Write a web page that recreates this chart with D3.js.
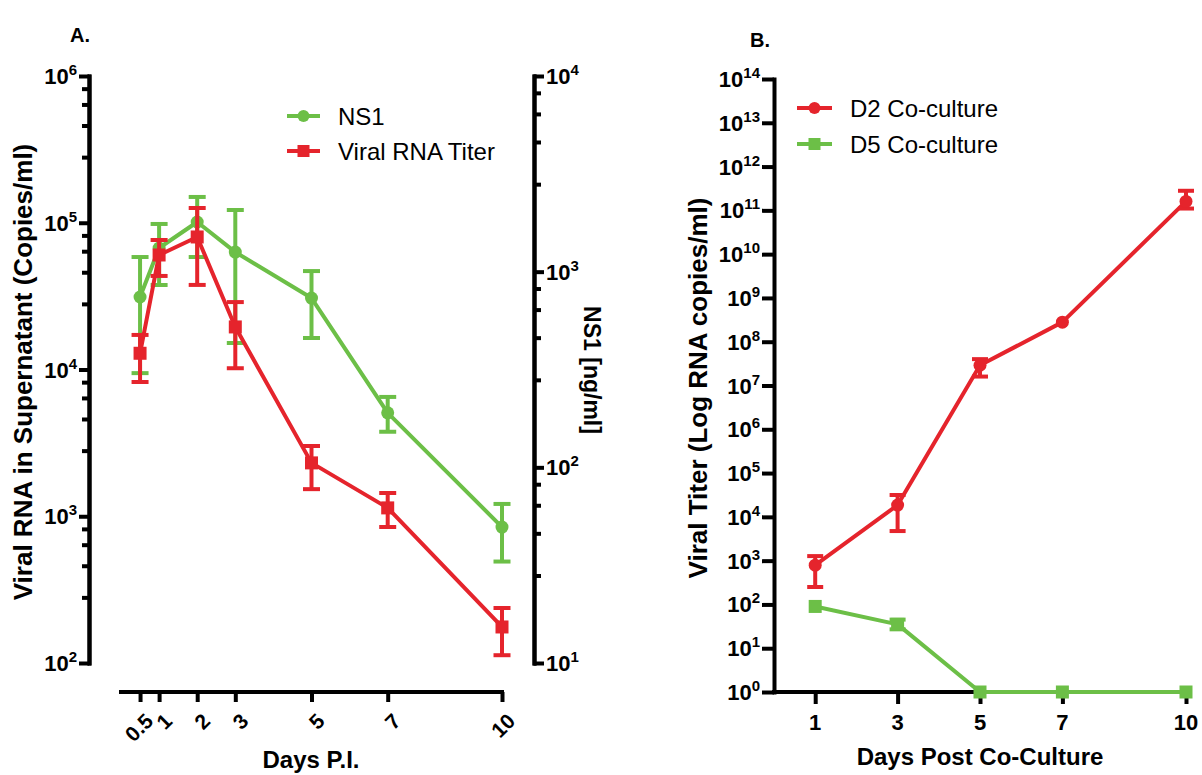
<!DOCTYPE html>
<html><head><meta charset="utf-8">
<script src="https://cdn.jsdelivr.net/npm/d3@7"></script>
<style>
body{margin:0;background:#fff;}
svg{display:block;font-family:"Liberation Sans",Arial,sans-serif;}
</style></head>
<body><svg id="c" width="1202" height="775"></svg>
<script>
// ---------- DATA ----------
const daysA = [0.5, 1, 2, 3, 5, 7, 10];
const xTicksA = [0.5, 1, 2, 3, 5, 7, 10];
const rnaTiter = [12900, 60300, 80000, 19500, 2310, 1140, 176];
const rnaLow   = [8220, 43400, 37700, 10200, 1530, 845, 113];
const rnaHigh  = [17200, 76300, 126000, 28800, 3010, 1440, 237];
const ns1      = [742, 1321, 1794, 1259, 733, 190, 49.5];
const ns1Low   = [303, 855, 1188, 432, 458, 152, 33];
const ns1High  = [1188, 1753, 2409, 2066, 1007, 229, 65];
const leftExpA = [2, 3, 4, 5, 6];
const rightExpA = [1, 2, 3, 4];
const legendA = ["NS1", "Viral RNA Titer"];

const daysB = [1, 3, 5, 7, 10];
const xTicksB = [1, 3, 5, 7, 10];
const d2     = [790, 18600, 2.9e7, 2.8e8, 1.6e11];
const d2Low  = [250, 4740, 1.6e7, 2.8e8, 1.1e11];
const d2High = [1270, 31600, 4.0e7, 2.8e8, 2.8e11];
const d5     = [90, 35, 1, 1, 1];
const d5Low  = [90, 27, 1, 1, 1];
const d5High = [90, 45, 1, 1, 1];
const expB = d3.range(0, 15);
const legendB = ["D2 Co-culture", "D5 Co-culture"];

// ---------- STYLE ----------
const RED = "#e5242c", GREEN = "#6cbf47";
const svg = d3.select("#c");
const AX = 4;

function supLabel(sel, exp, supSize, rise) {
  sel.text("10").append("tspan").attr("dy", -rise).attr("font-size", supSize).text(exp);
}
function styleAxis(g) {
  g.selectAll("path").attr("stroke", "#000").attr("stroke-width", AX).attr("stroke-linecap", "square");
  g.selectAll("line").attr("stroke", "#000").attr("stroke-width", AX);
}
function minorsFor(exps) {
  const out = [];
  for (let i = 0; i < exps.length - 1; i++) {
    for (let k = 1; k <= 4; k++) out.push((1 + 1.8 * k) * Math.pow(10, exps[i]));
  }
  return out;
}
function label(g) {
  return g.append("text").attr("fill", "#000").attr("font-weight", "bold");
}

// ---------- PANEL A ----------
const xA = d3.scaleLinear().domain([0, 10]).range([121, 502]);
const yL = d3.scaleLog().domain([1e2, 1e6]).range([663, 76]);
const yR = d3.scaleLog().domain([1e1, 1e4]).range([663, 76]);
const axLX = 89, axRX = 534, axXY = 692;

const gLm = svg.append("g").attr("transform", `translate(${axLX},0)`);
gLm.call(d3.axisLeft(yL).tickValues(minorsFor(leftExpA)).tickSize(7).tickSizeOuter(0).tickFormat(""));
styleAxis(gLm);
const gL = svg.append("g").attr("transform", `translate(${axLX},0)`);
gL.call(d3.axisLeft(yL).tickValues(leftExpA.map(e => Math.pow(10, e))).tickSize(10).tickSizeOuter(0).tickFormat(""));
styleAxis(gL);
leftExpA.forEach(e => {
  const t = label(gL).attr("x", -12).attr("y", yL(Math.pow(10, e)) + 8)
    .attr("text-anchor", "end").attr("font-size", 22);
  supLabel(t, e, 15, 9);
});

const gRm = svg.append("g").attr("transform", `translate(${axRX},0)`);
gRm.call(d3.axisRight(yR).tickValues(minorsFor(rightExpA)).tickSize(7).tickSizeOuter(0).tickFormat(""));
styleAxis(gRm);
const gR = svg.append("g").attr("transform", `translate(${axRX},0)`);
gR.call(d3.axisRight(yR).tickValues(rightExpA.map(e => Math.pow(10, e))).tickSize(10).tickSizeOuter(0).tickFormat(""));
styleAxis(gR);
rightExpA.forEach(e => {
  const t = label(gR).attr("x", 12).attr("y", yR(Math.pow(10, e)) + 8)
    .attr("text-anchor", "start").attr("font-size", 22);
  supLabel(t, e, 15, 9);
});

const gXA = svg.append("g").attr("transform", `translate(0,${axXY})`);
gXA.call(d3.axisBottom(xA).tickValues(xTicksA).tickSize(10).tickSizeOuter(0).tickFormat(""));
styleAxis(gXA);
gXA.select("path").attr("d", `M${xA(0)},0H${xA(10)}`);
xTicksA.forEach(d => {
  label(gXA).attr("transform", `translate(${xA(d) + 4},20) rotate(-45)`)
    .attr("text-anchor", "end").attr("dy", "0.7em").attr("font-size", 21).text(d);
});

label(svg).attr("transform", `translate(32,372) rotate(-90)`)
  .attr("text-anchor", "middle").attr("font-size", 26)
  .text("Viral RNA in Supernatant (Copies/ml)");
label(svg).attr("transform", `translate(584,370) rotate(90)`)
  .attr("text-anchor", "middle").attr("font-size", 23)
  .text("NS1 [ng/ml]");
label(svg).attr("x", 311).attr("y", 768).attr("text-anchor", "middle")
  .attr("font-size", 24).text("Days P.I.");
label(svg).attr("x", 70).attr("y", 42).attr("font-size", 20).text("A.");

function drawSeries(g, xs, ys, lo, hi, x, y, color, shape, cap) {
  const line = d3.line().x((d, i) => x(xs[i])).y(d => y(d));
  g.append("path").datum(ys).attr("d", line).attr("fill", "none")
    .attr("stroke", color).attr("stroke-width", 4).attr("stroke-linejoin", "round");
  xs.forEach((xv, i) => {
    if (Math.abs(y(lo[i]) - y(hi[i])) < 1) return;
    const px = x(xv);
    g.append("line").attr("x1", px).attr("x2", px).attr("y1", y(lo[i])).attr("y2", y(hi[i]))
      .attr("stroke", color).attr("stroke-width", 4);
    [lo[i], hi[i]].forEach(v => {
      g.append("line").attr("x1", px - cap / 2).attr("x2", px + cap / 2).attr("y1", y(v)).attr("y2", y(v))
        .attr("stroke", color).attr("stroke-width", 4);
    });
  });
  xs.forEach((xv, i) => {
    const px = x(xv), py = y(ys[i]);
    if (shape === "circle") g.append("circle").attr("cx", px).attr("cy", py).attr("r", 6.5).attr("fill", color);
    else g.append("rect").attr("x", px - 6.5).attr("y", py - 6.5).attr("width", 13).attr("height", 13).attr("fill", color);
  });
}
const gA = svg.append("g");
drawSeries(gA, daysA, ns1, ns1Low, ns1High, xA, yR, GREEN, "circle", 17);
drawSeries(gA, daysA, rnaTiter, rnaLow, rnaHigh, xA, yL, RED, "square", 17);

function legendRow(g, x0, x1, y, color, shape, text, tx) {
  g.append("line").attr("x1", x0).attr("x2", x1).attr("y1", y).attr("y2", y).attr("stroke", color).attr("stroke-width", 4);
  const cx = (x0 + x1) / 2;
  if (shape === "circle") g.append("circle").attr("cx", cx).attr("cy", y).attr("r", 6).attr("fill", color);
  else g.append("rect").attr("x", cx - 6).attr("y", y - 6).attr("width", 12).attr("height", 12).attr("fill", color);
  g.append("text").attr("fill", "#000").attr("x", tx).attr("y", y).attr("dy", "0.36em").attr("font-size", 24).text(text);
}
legendRow(gA, 287, 320, 116, GREEN, "circle", legendA[0], 338);
legendRow(gA, 287, 320, 151, RED, "square", legendA[1], 338);

// ---------- PANEL B ----------
const xB = d3.scaleLinear().domain([0, 10]).range([774, 1186]);
const yB = d3.scaleLog().domain([1, 1e14]).range([692, 79]);

const gYB = svg.append("g").attr("transform", `translate(${xB(0)},0)`);
gYB.call(d3.axisLeft(yB).tickValues(expB.map(e => Math.pow(10, e))).tickSize(12).tickSizeOuter(0).tickFormat(""));
styleAxis(gYB);
expB.forEach(e => {
  const t = label(gYB).attr("x", -14).attr("y", yB(Math.pow(10, e)) + 8)
    .attr("text-anchor", "end").attr("font-size", 22);
  supLabel(t, e, 15, 9);
});

const gXB = svg.append("g").attr("transform", `translate(0,${yB(1)})`);
gXB.call(d3.axisBottom(xB).tickValues(xTicksB).tickSize(12).tickSizeOuter(0).tickFormat(""));
styleAxis(gXB);
gXB.select("path").attr("d", `M${xB(0)},0H${xB(10) + 4}`);
xTicksB.forEach(d => {
  label(gXB).attr("x", xB(d)).attr("y", 38).attr("text-anchor", "middle")
    .attr("font-size", 22).text(d);
});

label(svg).attr("transform", `translate(707,388) rotate(-90)`)
  .attr("text-anchor", "middle").attr("font-size", 26)
  .text("Viral Titer (Log RNA copies/ml)");
label(svg).attr("x", 980).attr("y", 765).attr("text-anchor", "middle")
  .attr("font-size", 24).text("Days Post Co-Culture");
label(svg).attr("x", 750).attr("y", 47).attr("font-size", 20).text("B.");

const gB = svg.append("g");
drawSeries(gB, daysB, d2, d2Low, d2High, xB, yB, RED, "circle", 16);
drawSeries(gB, daysB, d5, d5Low, d5High, xB, yB, GREEN, "square", 16);
legendRow(gB, 797, 832, 108, RED, "circle", legendB[0], 850);
legendRow(gB, 797, 832, 144, GREEN, "square", legendB[1], 850);
</script>
</body></html>
